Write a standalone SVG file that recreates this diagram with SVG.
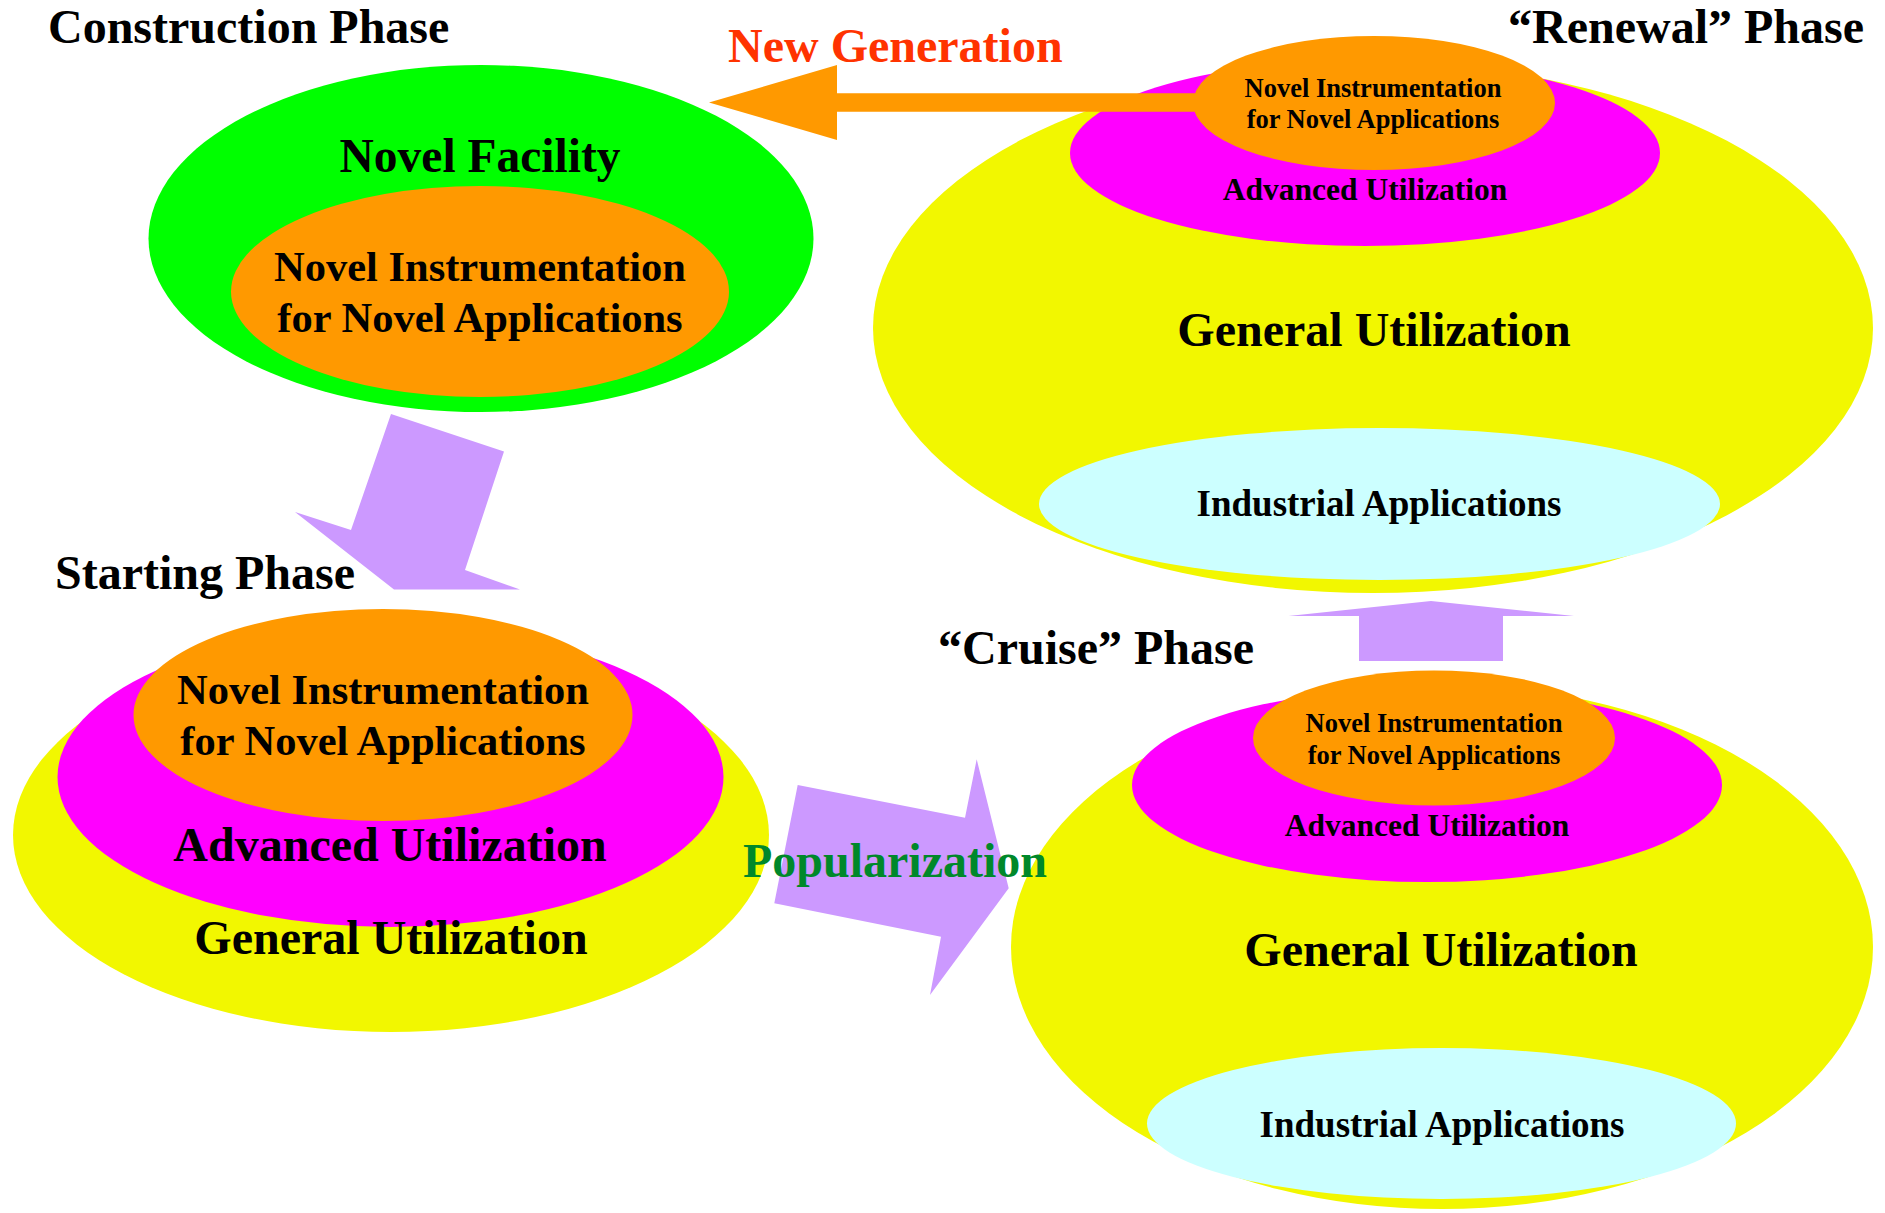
<svg xmlns="http://www.w3.org/2000/svg" width="1885" height="1213" viewBox="0 0 1885 1213">
<style>
text{font-family:"Liberation Serif","Times New Roman",serif;font-weight:bold;fill:#000}
.c{text-anchor:middle}
.h{font-size:48px}
.yel{fill:#F2F700}
.mag{fill:#FF00FF}
.org{fill:#FF9900}
.cyn{fill:#CCFFFF}
.grn{fill:#00FF00}
.pur{fill:#CC99FF}
</style>
<rect width="1885" height="1213" fill="#FFFFFF"/>
<g id="construction">
<ellipse class="grn" cx="481" cy="238.5" rx="332.5" ry="173.5"/>
<ellipse class="org" cx="480" cy="291.5" rx="249" ry="105.5"/>
<text class="h" x="48" y="43">Construction Phase</text>
<text class="c" x="480" y="172" font-size="47.5">Novel Facility</text>
<text class="c" x="480" y="281" font-size="42.5">Novel Instrumentation</text>
<text class="c" x="480" y="332" font-size="42.5">for Novel Applications</text>
</g>
<g id="renewal">
<ellipse class="yel" cx="1373" cy="328" rx="500" ry="265"/>
<ellipse class="cyn" cx="1379.5" cy="504" rx="340.5" ry="76"/>
<ellipse class="mag" cx="1365" cy="153" rx="295" ry="93"/>
<ellipse class="org" cx="1374" cy="103" rx="181" ry="67"/>
<text class="h" x="1508" y="43">“Renewal” Phase</text>
<text class="c" x="1373" y="96.5" font-size="26.5">Novel Instrumentation</text>
<text class="c" x="1373" y="127.5" font-size="26.5">for Novel Applications</text>
<text class="c" x="1365" y="200" font-size="31.5">Advanced Utilization</text>
<text class="c h" x="1374" y="346">General Utilization</text>
<text class="c" x="1379" y="516" font-size="37">Industrial Applications</text>
</g>
<g id="starting">
<ellipse class="yel" cx="391" cy="835" rx="378" ry="197"/>
<ellipse class="mag" cx="390.5" cy="777" rx="333" ry="150"/>
<ellipse class="org" cx="383" cy="715" rx="249.5" ry="106"/>
<text class="c" x="383" y="704" font-size="42.5">Novel Instrumentation</text>
<text class="c" x="383" y="755" font-size="42.5">for Novel Applications</text>
<text class="c h" x="390" y="861">Advanced Utilization</text>
<text class="c h" x="391" y="954">General Utilization</text>
</g>
<g id="cruise">
<ellipse class="yel" cx="1442" cy="947" rx="431" ry="262"/>
<ellipse class="cyn" cx="1441.5" cy="1123.5" rx="294.5" ry="75.5"/>
<ellipse class="mag" cx="1427" cy="785" rx="295" ry="97"/>
<ellipse class="org" cx="1434" cy="738" rx="181" ry="67.5"/>
<text class="c" x="1434" y="732" font-size="26.5">Novel Instrumentation</text>
<text class="c" x="1434" y="764" font-size="26.5">for Novel Applications</text>
<text class="c" x="1427" y="836" font-size="31.5">Advanced Utilization</text>
<text class="c h" x="1441" y="966">General Utilization</text>
<text class="c" x="1442" y="1137" font-size="37">Industrial Applications</text>
</g>
<g id="connectors">
<polygon class="org" points="709,102.5 837,65 837,93.3 1210,93.3 1210,111.7 837,111.7 837,140"/>
<polygon class="pur" points="391,414 504,451.5 465,570 520,589.5 394,589.5 295,512 351,530"/>
<polygon class="pur" points="797.7,785 965,817.7 976.7,759.3 1008.7,888.3 930,995 941,936.7 774.3,903.3"/>
<polygon class="pur" points="1359,661 1503,661 1503,616 1574,616 1431,601 1288.5,616 1359,616"/>
</g>
<g id="labels">
<text class="h" x="728" y="61.5" fill="#FF3300" style="fill:#FF3300">New Generation</text>
<text class="h" x="55" y="589">Starting Phase</text>
<text class="h" x="743" y="877" style="fill:#00882A">Popularization</text>
<text class="h" x="938" y="664">“Cruise” Phase</text>
</g>
</svg>
